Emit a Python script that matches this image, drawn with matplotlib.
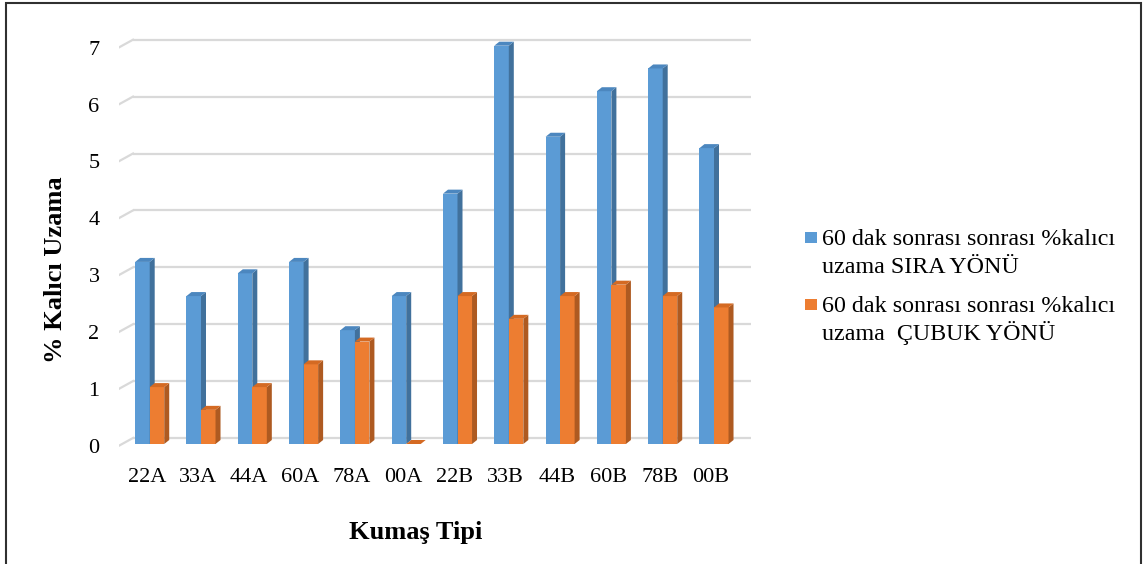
import matplotlib
matplotlib.use("Agg")
import matplotlib.pyplot as plt
from matplotlib.patches import Polygon, Rectangle
from matplotlib.transforms import ScaledTranslation

plt.rcParams['font.family'] = ['Liberation Serif', 'DejaVu Serif']

kumas = ['22A', '33A', '44A', '60A', '78A', '00A', '22B', '33B', '44B', '60B', '78B', '00B']
sira = [3.2, 2.6, 3.0, 3.2, 2.0, 2.6, 4.4, 7.0, 5.4, 6.2, 6.6, 5.2]
cubuk = [1.0, 0.6, 1.0, 1.4, 1.8, 0.0, 2.6, 2.2, 2.6, 2.8, 2.6, 2.4]
seri_adlari = ['60 dak sonrası sonrası %kalıcı\nuzama SIRA YÖNÜ',
               '60 dak sonrası sonrası %kalıcı\nuzama  ÇUBUK YÖNÜ']
y_ticks = [0, 1, 2, 3, 4, 5, 6, 7]

W, H = 1144, 564
fig = plt.figure(figsize=(W / 100, H / 100), dpi=100)

# eksen kutusu piksel cinsinden
ax_l, ax_r, ax_t, ax_b = 119, 751, 30, 450
ax = fig.add_axes([ax_l / W, (H - ax_b) / H, (ax_r - ax_l) / W, (ax_b - ax_t) / H])

px_x = 51.3   # bir kategori kac piksel
px_y = 56.9   # bir birim kac piksel
x0_px, y0_px = 149.7, 444
ax.set_xlim((ax_l - x0_px) / px_x, (ax_r - x0_px) / px_x)
ax.set_ylim((y0_px - ax_b) / px_y, (y0_px - ax_t) / px_y)

bw = 0.283
dx = 5 / px_x
dy = 4 / px_y

# 3B zemin/duvar izgarasi
back = 6 / px_y
x_wall = (133 - x0_px) / px_x
x_left = ax.get_xlim()[0]
for v in y_ticks:
    ax.plot([x_wall, ax.get_xlim()[1]], [v + back, v + back], color='#D9D9D9', lw=1.6, zorder=1,
            solid_capstyle='butt')
    ax.plot([x_left, x_wall], [v - 0.03, v + back], color='#D9D9D9', lw=1.6, zorder=1)


def bar3d(x, h, front, side, top, z):
    left = x - bw / 2
    right = x + bw / 2
    ax.bar(x, h, width=bw, color=front, zorder=z, linewidth=0)
    ax.add_patch(Polygon([(right, 0), (right, h), (right + dx, h + dy), (right + dx, dy)],
                         closed=True, facecolor=side, edgecolor='none', zorder=z))
    ax.add_patch(Polygon([(left, h), (right, h), (right + dx, h + dy), (left + dx, h + dy)],
                         closed=True, facecolor=top, edgecolor='none', zorder=z))


for i in range(len(kumas)):
    bar3d(i - bw / 2, sira[i], '#5B9BD5', '#41719C', '#4C87BF', 3 + 2 * i)
    bar3d(i + bw / 2, cubuk[i], '#ED7D31', '#AE5A21', '#D46A23', 4 + 2 * i)

ax.set_xticks(range(len(kumas)))
ax.set_xticklabels(kumas)
ax.set_yticks(y_ticks)
ax.tick_params(axis='both', length=0, labelsize=16)
ax.tick_params(axis='y', pad=14)
ax.tick_params(axis='x', pad=13)
kaydir = ScaledTranslation(-3 / 100, 0, fig.dpi_scale_trans)
for lbl in ax.get_xticklabels():
    lbl.set_transform(lbl.get_transform() + kaydir)
kaydir_y = ScaledTranslation(0, -2 / 100, fig.dpi_scale_trans)
for lbl in ax.get_yticklabels():
    lbl.set_transform(lbl.get_transform() + kaydir_y)
for s in ax.spines.values():
    s.set_visible(False)

fig.text(56 / W, 1 - 270 / H, '% Kalıcı Uzama', rotation=90, fontsize=19, fontweight='bold',
         ha='center', va='center')
fig.text(416 / W, 1 - 532 / H, 'Kumaş Tipi', fontsize=19, fontweight='bold',
         ha='center', va='center')

# lejant
renkler = ['#5B9BD5', '#ED7D31']
ilk_satir = [245, 312]
for k, ad in enumerate(seri_adlari):
    yb = ilk_satir[k]
    fig.add_artist(Rectangle((805 / W, 1 - (yb - 2) / H), 12 / W, 11 / H,
                             transform=fig.transFigure, facecolor=renkler[k], edgecolor='none'))
    for j, satir in enumerate(ad.split('\n')):
        fig.text(822 / W, 1 - (yb + 28 * j) / H, satir, fontsize=17.3, ha='left', va='baseline')

# dis cerceve
fig.add_artist(Rectangle((6 / W, -0.05), (1141 - 6) / W, 1.05 - 3 / H, transform=fig.transFigure,
                         facecolor='none', edgecolor='#303030', lw=1.5))

fig.savefig('out.png', dpi=100)
